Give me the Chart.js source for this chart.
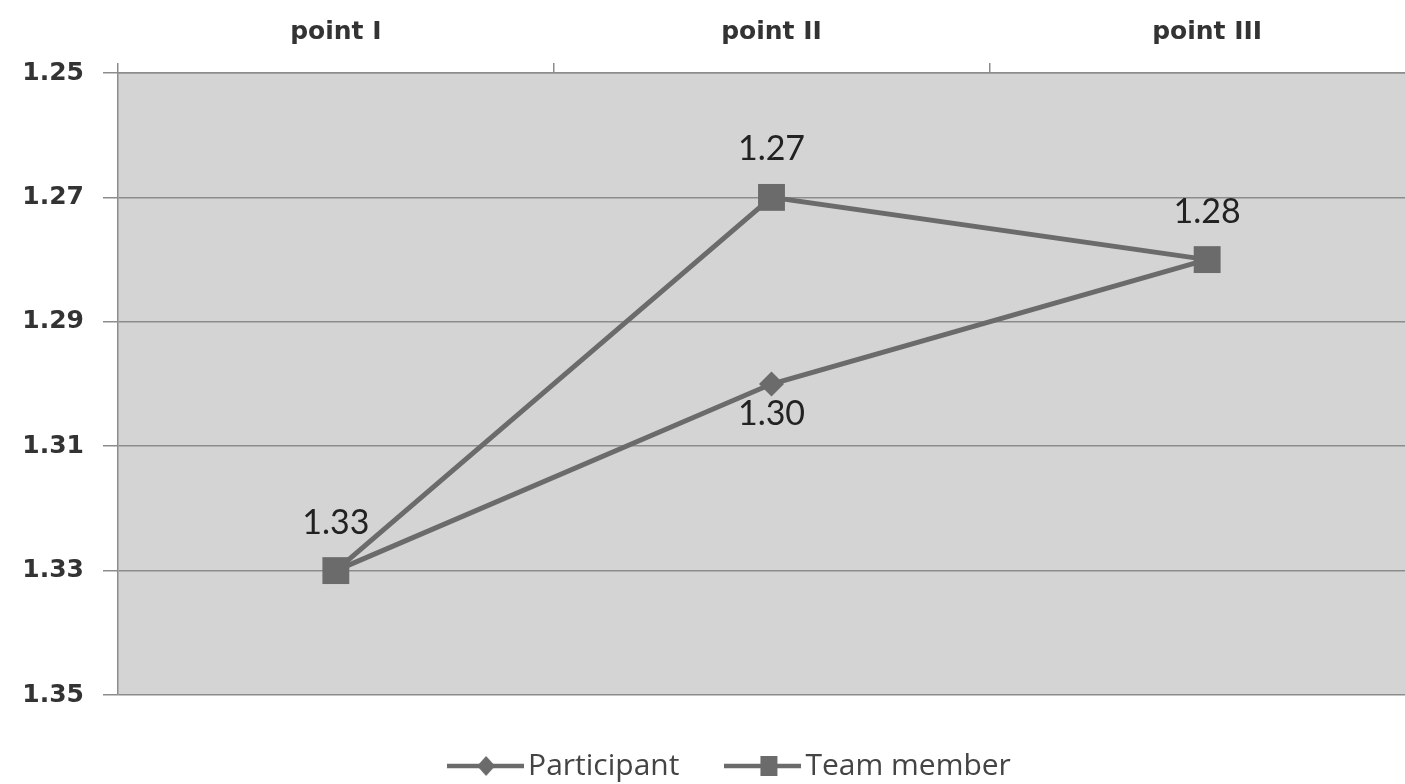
<!DOCTYPE html>
<html>
<head>
<meta charset="utf-8">
<script src="https://cdn.jsdelivr.net/npm/chart.js@4/dist/chart.umd.min.js"></script>
<style>
  html, body { margin: 0; padding: 0; background: #fff; overflow: hidden; }
  #wrap { position: absolute; left: 0; top: 0; width: 1425px; height: 784px; }
</style>
</head>
<body>
<div id="wrap"><canvas id="c" width="1425" height="784"></canvas></div>
<script>
// Measurement points and the two rated groups
const categories = ['point I', 'point II', 'point III'];
const participant = [1.33, 1.30, 1.28];
const teamMember = [1.33, 1.27, 1.28];
const yTicks = [1.25, 1.27, 1.29, 1.31, 1.33, 1.35];
const seriesNames = ['Participant', 'Team member'];
// Which values carry a printed label (coincident ones are printed once)
const participantShown = [false, true, false];
const teamShown = [true, true, true];

const LINE = '#6b6b6b';
const GRID = '#8c8c8c';

// Small line+marker swatch for the legend
function legendIcon(kind) {
  const c = document.createElement('canvas');
  c.width = 77; c.height = 26;
  const g = c.getContext('2d');
  g.strokeStyle = LINE; g.lineWidth = 4.5;
  g.beginPath(); g.moveTo(0, 13); g.lineTo(77, 13); g.stroke();
  g.fillStyle = LINE;
  if (kind === 'diamond') {
    g.beginPath(); g.moveTo(39, 3); g.lineTo(48, 13); g.lineTo(39, 23); g.lineTo(30, 13); g.closePath(); g.fill();
  } else {
    g.fillRect(36, 3, 17, 20);
  }
  return c;
}
const icons = [legendIcon('diamond'), legendIcon('square')];

const plotBackground = {
  id: 'plotBackground',
  beforeDraw(chart) {
    const { ctx, chartArea: a } = chart;
    ctx.save();
    ctx.fillStyle = '#d4d4d4';
    ctx.fillRect(a.left, a.top, a.right - a.left, a.bottom - a.top);
    ctx.restore();
  }
};

// Nudge the legend row a little to the right of the canvas centre
const legendShift = {
  id: 'legendShift',
  afterLayout(chart) {
    if (chart.legend) {
      chart.legend.left += 22;
      chart.legend.right += 22;
    }
  }
};

const valueLabels = {
  id: 'valueLabels',
  afterDatasetsDraw(chart) {
    const { ctx } = chart;
    const shown = [participantShown, teamShown];
    const offsets = [30, -48];
    ctx.save();
    ctx.font = '34px Lato';
    ctx.fillStyle = '#222';
    ctx.textAlign = 'center';
    ctx.textBaseline = 'middle';
    chart.data.datasets.forEach((ds, di) => {
      const meta = chart.getDatasetMeta(di);
      meta.data.forEach((pt, i) => {
        if (!shown[di][i]) return;
        ctx.fillText(ds.data[i].toFixed(2), pt.x, pt.y + offsets[di]);
      });
    });
    ctx.restore();
  }
};

new Chart(document.getElementById('c'), {
  type: 'line',
  data: {
    labels: categories,
    datasets: [
      {
        label: seriesNames[0],
        data: participant,
        borderColor: LINE,
        backgroundColor: LINE,
        borderWidth: 5,
        pointStyle: 'rectRot',
        pointRadius: 12.5,
        pointBorderWidth: 0,
        tension: 0
      },
      {
        label: seriesNames[1],
        data: teamMember,
        borderColor: LINE,
        backgroundColor: LINE,
        borderWidth: 5,
        pointStyle: 'rect',
        pointRadius: 19,
        pointBorderWidth: 0,
        tension: 0
      }
    ]
  },
  options: {
    responsive: false,
    animation: false,
    devicePixelRatio: 1,
    layout: { autoPadding: false, padding: { left: 0, right: 0, top: 0, bottom: -7 } },
    scales: {
      x: {
        position: 'top',
        offset: true,
        grid: { drawOnChartArea: false, drawTicks: true, tickLength: 10, color: GRID, lineWidth: 1.5, offset: true },
        border: { color: GRID, width: 1.5 },
        ticks: { font: { family: 'DejaVu Sans', size: 25, weight: 'bold' }, color: '#333', padding: 16, maxRotation: 0 },
        afterFit(s) { s.height = 73; }
      },
      y: {
        reverse: true,
        min: 1.25,
        max: 1.35,
        afterBuildTicks(s) { s.ticks = yTicks.map(v => ({ value: v })); },
        grid: { color: GRID, lineWidth: 1.5, tickLength: 15 },
        border: { color: GRID, width: 1.5 },
        ticks: {
          font: { family: 'DejaVu Sans', size: 25, weight: 'bold' },
          color: '#333',
          padding: 19,
          callback: v => Number(v).toFixed(2)
        },
        afterFit(s) { s.width = 118; }
      }
    },
    plugins: {
      tooltip: { enabled: false },
      legend: {
        position: 'bottom',
        labels: {
          usePointStyle: true,
          pointStyleWidth: 55,
          padding: 56,
          color: '#444',
          font: { family: 'Open Sans', size: 30 },
          generateLabels(chart) {
            return chart.data.datasets.map((ds, i) => ({
              text: ds.label,
              pointStyle: icons[i],
              fillStyle: LINE,
              strokeStyle: LINE,
              lineWidth: 0,
              hidden: false,
              datasetIndex: i,
              fontColor: '#444'
            }));
          }
        }
      }
    }
  },
  plugins: [plotBackground, legendShift, valueLabels]
});
</script>
</body>
</html>
